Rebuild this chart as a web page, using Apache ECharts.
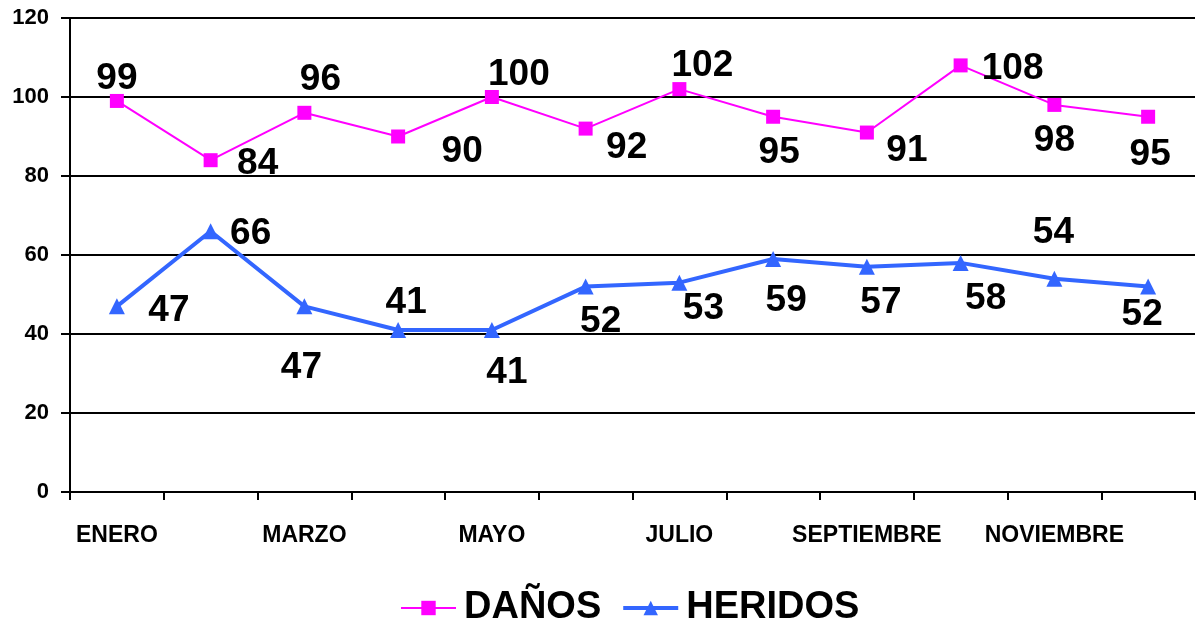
<!DOCTYPE html>
<html><head><meta charset="utf-8">
<script src="https://cdn.jsdelivr.net/npm/echarts@6/dist/echarts.min.js"></script>
<style>html,body{margin:0;padding:0;background:#fff}#c{width:1196px;height:627px}</style>
</head><body><div id="c"></div>
<script>
const categories = ['ENERO','FEBRERO','MARZO','ABRIL','MAYO','JUNIO','JULIO','AGOSTO','SEPTIEMBRE','OCTUBRE','NOVIEMBRE','DICIEMBRE'];
const danos = [99, 84, 96, 90, 100, 92, 102, 95, 91, 108, 98, 95];
const heridos = [47, 66, 47, 41, 41, 52, 53, 59, 57, 58, 54, 52];
const yTicks = [0, 20, 40, 60, 80, 100, 120];

// label offsets (style only)
const danosOff = [[0,-22],[47,4],[16,-33],[64,15],[27,-22],[41,19],[23,-23],[6,36],[40,18],[52,3],[0,36],[2,38]];
const heridosOff = [[52,4],[40,2],[-3,61],[8,-27],[15,43],[15,35],[24,26],[13,42],[14,36],[25,36],[-1,-46],[-6,28]];

const lblFont = {fontFamily:'Liberation Sans, Arial, sans-serif', fontWeight:'bold', fontSize:37, color:'#000'};

function mk(vals, offs){
  return vals.map((v,i)=>({value:v, label:{offset:offs[i]}}));
}

const chart = echarts.init(document.getElementById('c'));
chart.setOption({
  animation:false,
  textStyle:{fontFamily:'Liberation Sans, Arial, sans-serif'},
  grid:{left:70, right:1, top:18, bottom:135, containLabel:false},
  legend:{
    top:589, left:400, padding:0, itemWidth:55, itemHeight:18, itemGap:20,
    lineStyle:{width:'inherit'},
    textStyle:{fontSize:38, fontWeight:'bold', color:'#000', padding:[0,0,0,3]},
    data:['DAÑOS','HERIDOS']
  },
  xAxis:{
    type:'category', data:categories, boundaryGap:true,
    axisLine:{lineStyle:{color:'#000', width:2}},
    axisTick:{show:true, length:8, lineStyle:{color:'#000', width:2}, interval:0},
    axisLabel:{interval:1, margin:32, fontSize:23, fontWeight:'bold', color:'#000'}
  },
  yAxis:{
    type:'value', min:yTicks[0], max:yTicks[yTicks.length-1], interval:20,
    axisLine:{show:true, lineStyle:{color:'#000', width:2}},
    axisTick:{show:true, length:9, lineStyle:{color:'#000', width:2}},
    axisLabel:{margin:21, fontSize:22, fontWeight:'bold', color:'#000'},
    splitLine:{lineStyle:{color:'#000', width:2}}
  },
  series:[
    {name:'DAÑOS', type:'line', data:mk(danos, danosOff),
     symbol:'rect', symbolSize:14, itemStyle:{color:'#FF00FF'},
     lineStyle:{color:'#FF00FF', width:2},
     label:{show:true, position:'inside', ...lblFont}},
    {name:'HERIDOS', type:'line', data:mk(heridos, heridosOff),
     symbol:'triangle', symbolSize:16, itemStyle:{color:'#3366FF'},
     lineStyle:{color:'#3366FF', width:4},
     label:{show:true, position:'inside', ...lblFont}}
  ]
});
</script></body></html>
